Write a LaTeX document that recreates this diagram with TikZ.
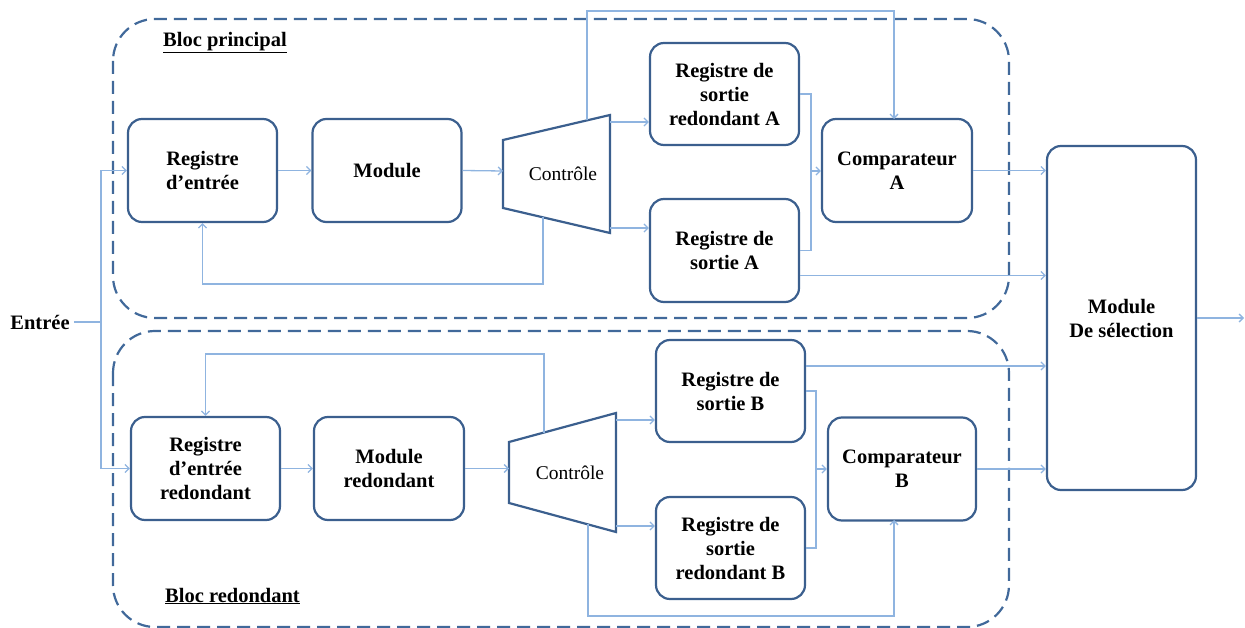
\documentclass[tikz,border=0pt]{standalone}
\usepackage{fontspec}
\setmainfont{Liberation Serif}
\usetikzlibrary{arrows.meta,calc}
\definecolor{boxblue}{HTML}{3B5F8E}
\definecolor{wireblue}{HTML}{8FB4E0}
\definecolor{dashblue}{HTML}{41699A}

\begin{document}
\begin{tikzpicture}[x=1pt,y=-1pt,
  blk/.style={draw=boxblue,line width=2.2pt,rounded corners=14pt,fill=white,
    align=center,font=\fontsize{20.5}{24}\selectfont\bfseries,inner sep=0pt,
    minimum width=149pt,minimum height=103pt},
  wire/.style={draw=wireblue,line width=1.3pt},
  arr/.style={wire,-{Straight Barb[length=4pt,width=8pt]}},
  grp/.style={draw=dashblue,line width=2.2pt,dash pattern=on 13pt off 7pt,rounded corners=42pt},
  lbl/.style={font=\fontsize{20.5}{24}\selectfont\bfseries,inner sep=0pt},
  ctl/.style={draw=boxblue,line width=2.2pt,fill=white},
  ctltxt/.style={font=\fontsize{19.5}{22}\selectfont,inner sep=0pt}]

\useasboundingbox (0,0) rectangle (1245,628);

% dashed groups
\draw[grp] (113,19) rectangle (1009,318);
\draw[grp] (113,331) rectangle (1009,627);
\node[lbl,anchor=west] (tA) at (163,43) {\underline{Bloc principal}};
\node[lbl,anchor=west] (tB) at (165,596) {\underline{Bloc redondant}};

% main block
\node[blk] (re) at (202.5,170.5) {Registre\\d’entrée};
\node[blk] (mod) at (387,170.5) {Module};
\draw[ctl] (503,140) -- (610,115) -- (610,233) -- (503,208) -- cycle;
\node[ctltxt] (ctlA) at (563,174) {Contrôle};
\coordinate (ctlA-in) at (503,171);
\coordinate (ctlA-a) at (610,122);
\coordinate (ctlA-b) at (610,228);
\coordinate (ctlA-t) at (587,120.4);
\coordinate (ctlA-d) at (543,217.3);
\node[blk,minimum height=102pt] (rsrA) at (724.5,94) {Registre de\\sortie\\redondant A};
\node[blk] (rsA) at (724.5,250.5) {Registre de\\sortie A};
\node[blk,minimum width=150pt] (cmpA) at (897,170.5) {Comparateur\\A};

% redundant block
\node[blk] (rer) at (205.5,468.5) {Registre\\d’entrée\\redondant};
\node[blk,minimum width=150pt] (modr) at (389,468.5) {Module\\redondant};
\draw[ctl] (509,442) -- (616,413) -- (616,532) -- (509,503) -- cycle;
\node[ctltxt] (ctlB) at (570,473) {Contrôle};
\coordinate (ctlB-in) at (509,468.5);
\coordinate (ctlB-a) at (616,420);
\coordinate (ctlB-b) at (616,526);
\coordinate (ctlB-t) at (544,432.5);
\coordinate (ctlB-d) at (588,524.4);
\node[blk,minimum height=102pt] (rsB) at (730.5,391) {Registre de\\sortie B};
\node[blk,minimum height=102pt] (rsrB) at (730.5,548) {Registre de\\sortie\\redondant B};
\node[blk,minimum width=148pt] (cmpB) at (902,469) {Comparateur\\B};

% selection
\node[blk,minimum height=344pt] (sel) at (1121.5,318) {Module\\De sélection};

% input
\node[lbl] (ent) at (40,322) {Entrée};
\coordinate (jn) at (101,322);
\draw[wire] (ent.east) ++(4,0) -- (jn);
\draw[arr] (jn) |- (re.west);
\draw[arr] (jn) |- (rer.west);

% main chain
\draw[arr] (re.east) -- (mod.west);
\draw[arr] (mod.east) -- (ctlA-in);
\draw[arr] (ctlA-a) -- (ctlA-a -| rsrA.west);
\draw[arr] (ctlA-b) -- (ctlA-b -| rsA.west);
\coordinate (mA) at (811,171);
\draw[wire] (rsrA.east) -| (mA) |- (rsA.east);
\draw[arr] (mA) -- (mA -| cmpA.west);
\coordinate (lpA) at (587,11);
\coordinate (dnA) at (894,119);
\draw[arr] (ctlA-t) -- (lpA) -| (dnA);
\coordinate (fbA) at (543,284);
\draw[arr] (ctlA-d) -- (fbA) -| (re.south);
\draw[arr] ([yshift=-25pt]rsA.east) -- ([yshift=-25pt]rsA.east -| sel.west);
\draw[arr] (cmpA.east) -- (cmpA.east -| sel.west);

% redundant chain
\draw[arr] (rer.east) -- (modr.west);
\draw[arr] (modr.east) -- (ctlB-in);
\draw[arr] (ctlB-a) -- (ctlB-a -| rsB.west);
\draw[arr] (ctlB-b) -- (ctlB-b -| rsrB.west);
\coordinate (mB) at (816,469);
\draw[wire] (rsB.east) -| (mB) |- (rsrB.east);
\draw[arr] (mB) -- (mB -| cmpB.west);
\coordinate (lpB) at (588,616);
\coordinate (upB) at (894,520);
\draw[arr] (ctlB-d) -- (lpB) -| (upB);
\coordinate (fbB) at (544,354);
\draw[arr] (ctlB-t) -- (fbB) -| (rer.north);
\draw[arr] ([yshift=25pt]rsB.east) -- ([yshift=25pt]rsB.east -| sel.west);
\draw[arr] (cmpB.east) -- (cmpB.east -| sel.west);

% output
\coordinate (out) at (1244,318);
\draw[arr] (sel.east) -- (out);
\end{tikzpicture}
\end{document}
